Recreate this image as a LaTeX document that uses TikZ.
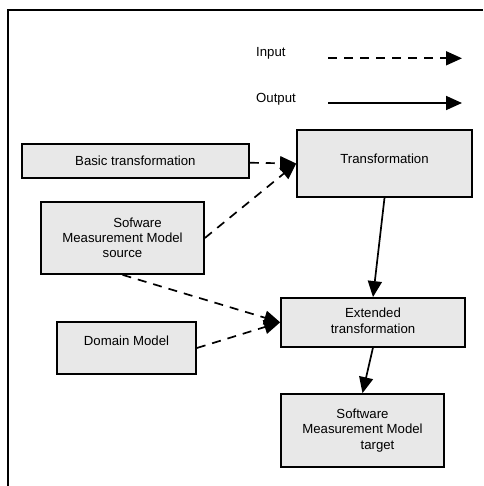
\documentclass[tikz,border=0pt]{standalone}
\usepackage{fontspec}
\setmainfont{Liberation Sans}
\usetikzlibrary{arrows.meta}
\definecolor{boxgray}{RGB}{232,232,232}

\begin{document}
\begin{tikzpicture}[%
    x=1pt,
    y=-1pt,
    >={Triangle[length=16pt,width=14pt]},
    line width=1.7pt,
    font=\fontsize{13.2}{15.2}\selectfont,
    noname/.style={%
      rectangle,
      fill=boxgray,
      inner sep=0pt,
      align=center,
      draw
    },
    input/.style={->,dash pattern=on 9pt off 7pt},
    output/.style={->}
  ]
    \useasboundingbox (0,0) rectangle (483,486);
    \draw (8.3,486) -- (8.3,10) -- (483,10);

    \node[anchor=west] (7) at (252,53) {Input};
    \node[anchor=west] (8) at (252,99) {Output};
    \coordinate (7a) at (328,58.3);
    \coordinate (7b) at (462,58.3);
    \coordinate (8a) at (328,103);
    \coordinate (8b) at (462,103);

    \node[noname, minimum width=227pt, minimum height=34pt] (1) at (135.4,161) {Basic transformation};
    \node[noname, minimum width=175pt, minimum height=67pt, text depth=9pt] (2) at (384.5,163.5) {Transformation};
    \node[noname, minimum width=163pt, minimum height=72pt] (3) at (122.5,238) {\hspace*{30pt}Sofware\\Measurement Model\\source};
    \node[noname, minimum width=139pt, minimum height=52pt, text depth=14pt] (4) at (126.5,348) {Domain Model};
    \node[noname, minimum width=184pt, minimum height=48.7pt] (5) at (373,322.3) {};
    \node[noname, minimum width=163pt, minimum height=73pt] (6) at (362.5,430.5) {Software\\Measurement Model\\\hspace*{30pt}target};

    % text of (5) is cut off by the box
    \begin{scope}
      \clip (281,298) rectangle (465,333);
      \node[align=center] (5t) at ([yshift=1.5pt]5) {Extended\\transformation};
    \end{scope}

    \path (7a) edge[input] (7b)
          (8a) edge[output] (8b)
          (1) edge[input] (2.west)
          (3.east) edge[input] (2.west)
          (2.south) edge[output] (5.north)
          (3.south) edge[input] (5.west)
          (4.east) edge[input] (5.west)
          (5.south) edge[output] (6.north);
\end{tikzpicture}
\end{document}
